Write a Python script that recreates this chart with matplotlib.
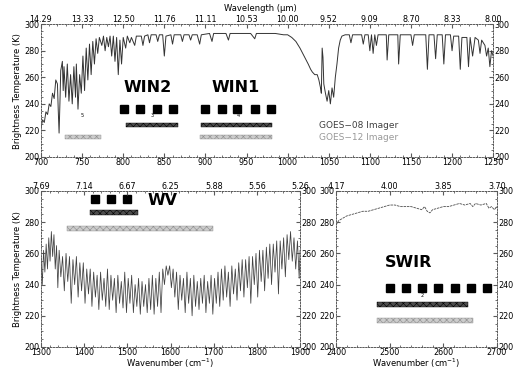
"""Brightness temperature spectra with GOES imager / sounder band positions."""

import matplotlib

matplotlib.use("Agg")

import matplotlib.pyplot as plt
from matplotlib.axes import Axes

# ---------------------------------------------------------------- data
# Longwave window region (top panel)
LW_WAVENUMBER = [
    700, 702, 704, 706, 708, 710, 712, 714, 716, 718, 720, 721, 722, 723, 724,
    726, 727, 728, 730, 732, 734, 736, 738, 740, 742, 743, 745, 747, 749, 751,
    753, 755, 757, 759, 761, 763, 765, 767, 769, 771, 774, 776, 778, 780, 782,
    784, 786, 788, 790, 792, 794, 796, 798, 800, 803, 805, 808, 810, 814, 816,
    822, 824, 826, 830, 832, 834, 840, 842, 844, 848, 850, 852, 858, 860, 862,
    870, 872, 874, 880, 882, 884, 890, 893, 895, 905, 908, 910, 925, 928, 930,
    945, 955, 960, 962, 975, 985, 995, 1000, 1005, 1010, 1015, 1020, 1025,
    1028, 1030, 1033, 1036, 1038, 1040, 1041, 1042, 1043, 1044, 1046, 1048,
    1050, 1052, 1054, 1056, 1058, 1060, 1062, 1064, 1066, 1070, 1075, 1077,
    1079, 1090, 1092, 1094, 1098, 1100, 1102, 1104, 1106, 1108, 1110, 1120,
    1121, 1123, 1134, 1135, 1137, 1150, 1152, 1154, 1168, 1170, 1172, 1178,
    1180, 1182, 1188, 1190, 1192, 1198, 1200, 1202, 1208, 1210, 1212, 1218,
    1220, 1222, 1225, 1228, 1232, 1234, 1236, 1240, 1242, 1244, 1246, 1248,
    1250,
]
LW_TB = [
    222, 228, 226, 234, 232, 240, 238, 248, 244, 258, 255, 235, 218, 240, 265,
    272, 250, 268, 245, 270, 242, 262, 240, 268, 245, 270, 236, 262, 248, 276,
    250, 282, 258, 285, 262, 287, 270, 289, 278, 290, 284, 291, 280, 290, 283,
    291, 276, 291, 272, 290, 262, 288, 270, 290, 282, 291, 286, 290, 284, 291,
    291, 284, 291, 292, 286, 292, 292, 287, 292, 292, 276, 291, 292, 285, 292,
    292, 287, 292, 292, 288, 292, 292, 285, 292, 293, 287, 293, 293, 288, 293,
    293, 293, 289, 293, 293, 293, 292, 292, 290, 287, 282, 276, 270,
    266, 264, 262, 262, 258, 252, 248, 282, 275, 255, 248, 242,
    250, 240, 252, 245, 260, 270, 282, 288, 291, 292, 292, 286,
    292, 292, 285, 292, 292, 280, 292, 278, 292, 284, 292, 292,
    273, 292, 292, 270, 292, 292, 284, 292, 292, 266, 292, 292,
    274, 292, 292, 270, 292, 292, 280, 291, 291, 266, 290, 290,
    268, 290, 276, 290, 288, 278, 288, 284, 276, 282, 268, 280,
    276,
]

# Water vapour region (bottom left)
WV_WAVENUMBER = [
    1300, 1303, 1306, 1309, 1312, 1315, 1318, 1321, 1324, 1327, 1330, 1333,
    1336, 1339, 1342, 1346, 1350, 1354, 1358, 1362, 1366, 1370, 1374, 1378,
    1382, 1386, 1390, 1394, 1398, 1402, 1406, 1410, 1414, 1418, 1422, 1426,
    1430, 1434, 1438, 1442, 1446, 1450, 1454, 1458, 1462, 1466, 1470, 1474,
    1478, 1482, 1486, 1490, 1494, 1498, 1502, 1506, 1510, 1514, 1518, 1522,
    1526, 1530, 1534, 1538, 1542, 1546, 1550, 1554, 1558, 1562, 1566, 1570,
    1574, 1578, 1582, 1586, 1590, 1594, 1598, 1602, 1606, 1610, 1614, 1618,
    1622, 1626, 1630, 1634, 1638, 1642, 1646, 1650, 1654, 1658, 1662, 1666,
    1670, 1674, 1678, 1682, 1686, 1690, 1694, 1698, 1702, 1706, 1710, 1714,
    1718, 1722, 1726, 1730, 1734, 1738, 1742, 1746, 1750, 1754, 1758, 1762,
    1766, 1770, 1774, 1778, 1782, 1786, 1790, 1794, 1798, 1802, 1806, 1810,
    1814, 1818, 1822, 1826, 1830, 1834, 1838, 1842, 1846, 1850, 1854, 1858,
    1862, 1866, 1870, 1874, 1878, 1882, 1886, 1890, 1894, 1898, 1900,
]
WV_TB = [
    258, 240, 262, 248, 266, 250, 270, 255, 274, 258, 272, 250,
    265, 238, 262, 245, 258, 236, 260, 242, 258, 228, 256, 240,
    258, 232, 254, 236, 254, 228, 250, 234, 250, 226, 248, 232,
    246, 224, 248, 230, 244, 226, 250, 224, 246, 230, 244, 222,
    246, 228, 242, 225, 248, 222, 244, 228, 246, 222, 240, 226,
    244, 221, 242, 226, 240, 222, 244, 224, 246, 221, 244, 226,
    248, 222, 250, 240, 252, 246, 252, 238, 250, 232, 248, 224,
    246, 230, 244, 222, 248, 228, 244, 220, 246, 226, 242, 224,
    244, 228, 246, 222, 242, 228, 246, 221, 244, 228, 248, 226,
    250, 230, 252, 232, 248, 226, 252, 234, 250, 230, 254, 236,
    256, 232, 256, 238, 258, 228, 258, 240, 260, 232, 262, 242,
    262, 236, 264, 244, 266, 240, 266, 248, 268, 234, 268, 250,
    270, 245, 272, 256, 274, 255, 270, 250, 268, 244, 262,
]

# Shortwave window region (bottom right)
SW_WAVENUMBER = [
    2400, 2405, 2410, 2420, 2430, 2440, 2450, 2460, 2470, 2480, 2490, 2500,
    2510, 2520, 2530, 2540, 2550, 2560, 2565, 2570, 2575, 2580, 2590, 2600,
    2610, 2620, 2630, 2640, 2650, 2655, 2660, 2670, 2680, 2685, 2690, 2695,
    2700,
]
SW_TB = [
    278, 281, 282, 284, 285, 286, 287, 287, 288, 289, 290, 291,
    291, 290, 290, 290, 289, 288, 290, 287, 286, 288, 289, 290,
    290, 291, 292, 291, 292, 290, 292, 291, 292, 289, 290, 288,
    290,
]

# Channel markers (black squares) and band ranges (GOES-08 dark, GOES-12 light)
WIN2_SQUARES = [801, 820, 841, 861]
WIN1_SQUARES = [899, 920, 939, 960, 980]
WV_SQUARES = [1425, 1462, 1499]
SWIR_SQUARES = [2501, 2530, 2560, 2590, 2621, 2652, 2681]

WIN2_G08 = (803, 867)
WIN2_G12 = (729, 773)
WIN1_G08 = (895, 981)
WIN1_G12 = (894, 981)
WV_G08 = (1414, 1525)
WV_G12 = (1360, 1698)
SWIR_G08 = (2476, 2646)
SWIR_G12 = (2476, 2655)

LW_TICKS = [700, 750, 800, 850, 900, 950, 1000, 1050, 1100, 1150, 1200, 1250]
LW_UM = ["14.29", "13.33", "12.50", "11.76", "11.11", "10.53", "10.00",
         "9.52", "9.09", "8.70", "8.33", "8.00"]
WV_TICKS = [1300, 1400, 1500, 1600, 1700, 1800, 1900]
WV_UM = ["7.69", "7.14", "6.67", "6.25", "5.88", "5.56", "5.26"]
SW_TICKS = [2400, 2500, 2600, 2700]
SW_UM = ["4.17", "4.00", "3.85", "3.70"]
TB_TICKS = [200, 220, 240, 260, 280, 300]

TICK_FS = 5.8
LABEL_FS = 6
BIG_FS = 11.5


def _style_axis(axis: Axes, xticks, um_labels, xlim) -> None:
    axis.set_xlim(*xlim)
    axis.set_ylim(200, 300)
    axis.set_xticks(xticks)
    axis.set_yticks(TB_TICKS)
    axis.minorticks_on()
    axis.tick_params(which="both", direction="in", top=False, right=True,
                     labelright=True, labelsize=TICK_FS, pad=0.8,
                     color="0.35")
    axis.tick_params(which="major", length=3)
    axis.tick_params(which="minor", length=1.5)
    for spine in axis.spines.values():
        spine.set_linestyle((0, (1.5, 1.5)))
        spine.set_color("0.35")
        spine.set_linewidth(0.7)
    top = axis.twiny()
    top.set_xlim(*xlim)
    top.set_xticks(xticks, um_labels)
    top.minorticks_on()
    top.tick_params(which="both", direction="in", labelsize=TICK_FS, pad=0,
                    color="0.35")
    top.tick_params(which="major", length=3)
    top.tick_params(which="minor", length=1.5)
    for spine in top.spines.values():
        spine.set_visible(False)


def _bands(axis: Axes, squares, sq_y, g08, g08_y, g12, g12_y) -> None:
    axis.plot(squares, [sq_y] * len(squares), "s", color="black",
              markersize=6)
    axis.barh(g08_y, g08[1] - g08[0], left=g08[0], height=3.2,
              color="0.3", edgecolor="black", hatch="xxxxx", linewidth=0.3)
    axis.barh(g12_y, g12[1] - g12[0], left=g12[0], height=3.2,
              color="0.8", edgecolor="0.55", hatch="xxxxx", linewidth=0.3)


figure = plt.figure(figsize=(5.15, 3.7), dpi=100)
plt.rcParams["hatch.linewidth"] = 0.4

ax_top = figure.add_axes([0.0796, 0.5757, 0.878, 0.359])
ax_wv = figure.add_axes([0.0796, 0.0622, 0.503, 0.4216])
ax_sw = figure.add_axes([0.6524, 0.0622, 0.3126, 0.4216])

# top panel
ax_top.plot(LW_WAVENUMBER, LW_TB, color="0.2", linewidth=0.7)
_bands(ax_top, WIN2_SQUARES, 236, WIN2_G08, 224, WIN2_G12, 215)
_bands(ax_top, WIN1_SQUARES, 236, WIN1_G08, 224, WIN1_G12, 215)
ax_top.text(830, 252, "WIN2", fontsize=BIG_FS, fontweight="bold",
            ha="center", va="center")
ax_top.text(937, 252, "WIN1", fontsize=BIG_FS, fontweight="bold",
            ha="center", va="center")
ax_top.text(1038, 224, "GOES\u221208 Imager", fontsize=6.5, color="0.25",
            va="center")
ax_top.text(1038, 215, "GOES\u221212 Imager", fontsize=6.5, color="0.6",
            va="center")
ax_top.text(750, 231, "5", fontsize=3.5, ha="center", va="center")
ax_top.text(835, 231, "3", fontsize=3.5, ha="center", va="center")
ax_top.text(940, 231, "4", fontsize=3.5, ha="center", va="center")
ax_top.set_ylabel("Brightness Temperature (K)", fontsize=LABEL_FS,
                  labelpad=2)
_style_axis(ax_top, LW_TICKS, LW_UM, (700, 1250))
figure.text(0.505, 0.988, "Wavelength (\u03bcm)", fontsize=LABEL_FS,
            ha="center", va="top")

# water vapour panel
ax_wv.plot(WV_WAVENUMBER, WV_TB, color="0.25", linewidth=0.55)
_bands(ax_wv, WV_SQUARES, 295, WV_G08, 286, WV_G12, 276)
ax_wv.text(1582, 294, "WV", fontsize=BIG_FS, fontweight="bold",
           ha="center", va="center")
ax_wv.set_ylabel("Brightness Temperature (K)", fontsize=LABEL_FS,
                 labelpad=2)
ax_wv.set_xlabel("Wavenumber (cm$^{-1}$)", fontsize=LABEL_FS, labelpad=0)
_style_axis(ax_wv, WV_TICKS, WV_UM, (1300, 1900))

# shortwave panel
ax_sw.plot(SW_WAVENUMBER, SW_TB, color="0.3", linewidth=0.6,
           linestyle=(0, (3, 1)))
_bands(ax_sw, SWIR_SQUARES, 238, SWIR_G08, 227, SWIR_G12, 217)
ax_sw.text(2535, 254, "SWIR", fontsize=BIG_FS, fontweight="bold",
           ha="center", va="center")
ax_sw.text(2560, 233, "2", fontsize=3.5, ha="center", va="center")
ax_sw.set_xlabel("Wavenumber (cm$^{-1}$)", fontsize=LABEL_FS, labelpad=0)
_style_axis(ax_sw, SW_TICKS, SW_UM, (2400, 2700))

figure.savefig("out.png", dpi=100)
plt.close(figure)
